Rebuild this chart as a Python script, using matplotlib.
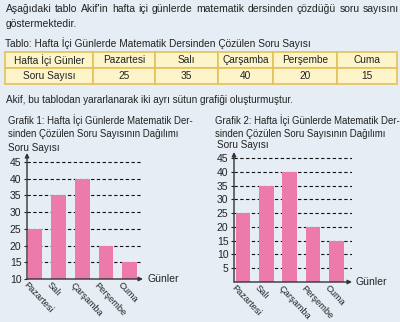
import matplotlib as mpl
import matplotlib.pyplot as plt

days = ['Pazartesi', 'Salı', 'Çarşamba', 'Perşembe', 'Cuma']
counts = [25, 35, 40, 20, 15]
row_header = 'Hafta İçi Günler'
row_label = 'Soru Sayısı'
ticks_1 = [10, 15, 20, 25, 30, 35, 40, 45]
ticks_2 = [5, 10, 15, 20, 25, 30, 35, 40, 45]

BG = '#e6edf4'
BAR = '#ec7aab'
CELL = '#fdf5c9'
EDGE = '#e3c25a'
INK = '#222222'

mpl.rc('font', family=['Liberation Sans', 'DejaVu Sans'], size=7)

W, H = 400, 322
fig = plt.figure(figsize=(W / 100, H / 100), dpi=100, facecolor=BG)
renderer = fig.canvas.get_renderer()


def fx(px):
    return px / W


def fy(py):
    return 1 - py / H


def add_box(x0, y0, x1, y1):
    # pixel box (top-left origin) -> figure axes
    return fig.add_axes([fx(x0), fy(y1), fx(x1 - x0), (y1 - y0) / H])


def justified(line, x0, x1, y, size):
    # spread the words of one line evenly between x0 and x1
    words = line.split()
    texts = [fig.text(0, fy(y), w, va='center', color=INK, fontsize=size) for w in words]
    widths = [t.get_window_extent(renderer).width for t in texts]
    gap = (x1 - x0 - sum(widths)) / (len(words) - 1)
    x = x0
    for t, w in zip(texts, widths):
        t.set_x(fx(x))
        x += w + gap


# intro text
justified("Aşağıdaki tablo Akif'in hafta içi günlerde matematik dersinden çözdüğü soru sayısını",
          6, 399, 9, 7.5)
fig.text(fx(6), fy(24), 'göstermektedir.', va='center', color=INK, fontsize=7.5)
fig.text(fx(5), fy(43), 'Tablo: Hafta İçi Günlerde Matematik Dersinden Çözülen Soru Sayısı',
         va='center', color=INK, fontsize=7.3)

# table
tax = add_box(5, 52, 397, 84)
tax.axis('off')
widths = [88, 62, 63, 55, 64, 60]
tot = sum(widths)
tbl = tax.table(cellText=[[row_header] + days, [row_label] + [str(v) for v in counts]],
                bbox=[0, 0, 1, 1], colWidths=[w / tot for w in widths], cellLoc='center')
tbl.auto_set_font_size(False)
for cell in tbl.get_celld().values():
    cell.set_facecolor(CELL)
    cell.set_edgecolor(EDGE)
    cell.set_linewidth(1.2)
    cell.get_text().set_fontsize(7.3)
    cell.get_text().set_color(INK)

fig.text(fx(6), fy(100), 'Akif, bu tablodan yararlanarak iki ayrı sütun grafiği oluşturmuştur.',
         va='center', color=INK, fontsize=7.2)


def bar_chart(box, ylim, xlim, yticks, title_xy, ylabel_xy, xlabel_xy, title):
    ax = add_box(*box)
    ax.set_facecolor('none')
    ax.set_xlim(*xlim)
    ax.set_ylim(*ylim)
    for s in ax.spines.values():
        s.set_visible(False)
    for t in yticks:
        if t != ylim[0]:
            ax.axhline(t, color='#111111', lw=0.8, ls=(0, (3, 2.2)), zorder=1)
    ax.bar(range(len(days)), counts, width=0.62, color=BAR, zorder=2)
    ax.set_yticks(yticks)
    ax.tick_params(axis='y', length=2, width=0.8, pad=2, labelsize=7.5, colors=INK)
    ax.set_xticks([])
    # axis arrows
    ax.annotate('', xy=(0, 1.0), xytext=(0, 0), xycoords='axes fraction',
                arrowprops=dict(arrowstyle='-|>', color='#333333', lw=1.0,
                                mutation_scale=6, shrinkA=0, shrinkB=0))
    ax.annotate('', xy=(1.0, 0), xytext=(0, 0), xycoords='axes fraction',
                arrowprops=dict(arrowstyle='-|>', color='#333333', lw=1.0,
                                mutation_scale=6, shrinkA=0, shrinkB=0))
    shift = mpl.transforms.ScaledTranslation(0, -1 / 72, fig.dpi_scale_trans)
    for i, d in enumerate(days):
        ax.text(i - 0.3, ylim[0], d, rotation=-47, rotation_mode='anchor',
                ha='left', va='top', fontsize=6.7, color=INK,
                transform=ax.transData + shift)
    fig.text(fx(title_xy[0]), fy(title_xy[1]), title, va='top', color=INK,
             fontsize=6.9, linespacing=1.35)
    fig.text(fx(ylabel_xy[0]), fy(ylabel_xy[1]), 'Soru Sayısı', va='center', color=INK, fontsize=7.2)
    fig.text(fx(xlabel_xy[0]), fy(xlabel_xy[1]), 'Günler', va='center', color=INK, fontsize=7.5)
    return ax


bar_chart((27, 153, 143, 279), (10, 47.7), (-0.34, 4.57), ticks_1,
          (8, 114), (8, 148), (147, 279),
          'Grafik 1: Hafta İçi Günlerde Matematik Der-\nsinden Çözülen Soru Sayısının Dağılımı')
bar_chart((234, 152, 352, 282), (0, 47.2), (-0.38, 4.66), ticks_2,
          (215, 114), (217, 145), (355, 282),
          'Grafik 2: Hafta İçi Günlerde Matematik Der-\nsinden Çözülen Soru Sayısının Dağılımı')

fig.savefig('out.png', dpi=100, facecolor=BG)
